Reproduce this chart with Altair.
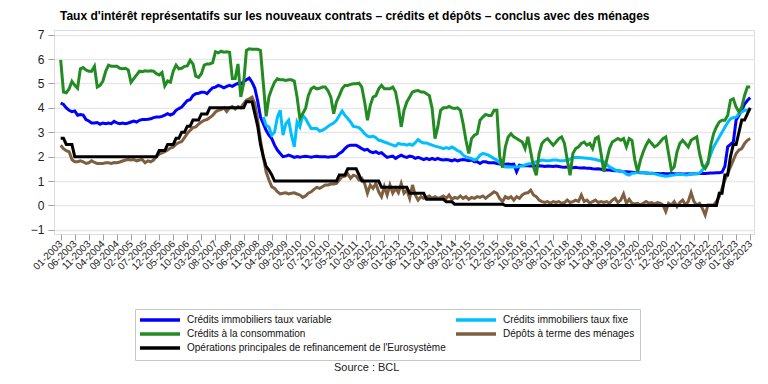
import altair as alt
import pandas as pd

# ---------------- data (monthly, 01-2003 .. 06-2023) ----------------
tick_labels = [
    "01-2003", "06-2003", "11-2003", "04-2004", "09-2004", "02-2005", "07-2005", "12-2005",
    "05-2006", "10-2006", "03-2007", "08-2007", "01-2008", "06-2008", "11-2008", "04-2009",
    "09-2009", "02-2010", "07-2010", "12-2010", "05-2011", "10-2011", "03-2012", "08-2012",
    "01-2013", "06-2013", "11-2013", "04-2014", "09-2014", "02-2015", "07-2015", "12-2015",
    "05-2016", "10-2016", "03-2017", "08-2017", "01-2018", "06-2018", "11-2018", "04-2019",
    "09-2019", "02-2020", "07-2020", "12-2020", "05-2021", "10-2021", "03-2022", "08-2022",
    "01-2023", "06-2023",
]

series_names = [
    "Crédits immobiliers taux variable",
    "Crédits immobiliers taux fixe",
    "Crédits à la consommation",
    "Dépôts à terme des ménages",
    "Opérations principales de refinancement de l'Eurosystème",
]
series_colors = ["#0000FF", "#00BFFF", "#228B22", "#7F5F3F", "#000000"]

taux_variable = [
    4.20, 4.14, 4.00, 3.90, 3.84, 3.87, 3.70, 3.73, 3.70, 3.52,
    3.46, 3.38, 3.38, 3.40, 3.33, 3.38, 3.35, 3.38, 3.35, 3.45,
    3.38, 3.35, 3.38, 3.35, 3.38, 3.42, 3.46, 3.42, 3.49, 3.52,
    3.52, 3.53, 3.55, 3.60, 3.62, 3.62, 3.65, 3.70, 3.76, 3.70,
    3.76, 3.90, 3.97, 4.03, 4.17, 4.30, 4.33, 4.50, 4.58, 4.60,
    4.64, 4.64, 4.58, 4.71, 4.82, 4.85, 4.92, 4.88, 4.82, 4.88,
    4.92, 4.88, 4.95, 5.00, 4.97, 5.07, 5.15, 5.22, 5.05, 4.80,
    4.28, 3.62, 3.35, 3.08, 2.88, 2.74, 2.47, 2.27, 2.13, 2.00,
    2.02, 2.06, 2.02, 1.97, 2.00, 1.98, 2.00, 2.02, 2.00, 1.98,
    2.00, 2.02, 2.00, 2.00, 2.00, 1.98, 2.00, 2.00, 2.02, 2.13,
    2.20, 2.33, 2.43, 2.47, 2.47, 2.47, 2.40, 2.33, 2.27, 2.30,
    2.20, 2.16, 2.20, 2.13, 2.16, 2.06, 1.97, 2.00, 2.02, 1.93,
    2.00, 2.06, 2.00, 1.97, 2.02, 2.00, 1.93, 1.97, 1.93, 1.88,
    1.93, 1.88, 1.93, 1.88, 1.93, 1.88, 1.86, 1.88, 1.86, 1.83,
    1.88, 1.83, 1.86, 1.88, 1.86, 1.83, 1.86, 1.79, 1.79, 1.72,
    1.79, 1.79, 1.75, 1.75, 1.75, 1.72, 1.70, 1.69, 1.69, 1.70,
    1.68, 1.69, 1.38, 1.65, 1.63, 1.64, 1.63, 1.62, 1.63, 1.62,
    1.63, 1.62, 1.60, 1.62, 1.61, 1.60, 1.62, 1.60, 1.58, 1.57,
    1.58, 1.56, 1.55, 1.56, 1.54, 1.53, 1.54, 1.52, 1.52, 1.50,
    1.49, 1.50, 1.48, 1.46, 1.45, 1.45, 1.43, 1.42, 1.42, 1.40,
    1.38, 1.38, 1.37, 1.36, 1.35, 1.35, 1.34, 1.34, 1.33, 1.32,
    1.32, 1.31, 1.31, 1.30, 1.31, 1.30, 1.30, 1.31, 1.30, 1.29,
    1.30, 1.29, 1.29, 1.30, 1.29, 1.30, 1.30, 1.31, 1.32, 1.31,
    1.32, 1.33, 1.33, 1.34, 1.34, 1.36, 1.60, 2.40, 2.50, 2.60,
    3.50, 3.70, 3.90, 4.15, 4.30, 4.42,
]

# starts 01-2009
taux_fixe = [
    3.62, 3.29, 3.22, 2.88, 3.01, 3.62, 3.90, 2.88,
    3.35, 3.49, 2.88, 2.40, 3.42, 3.22, 3.69, 3.56, 3.35, 3.15,
    3.15, 3.15, 3.05, 3.08, 3.15, 3.24, 3.32, 3.38, 3.49, 3.69,
    3.87, 3.69, 3.56, 3.42, 3.24, 3.22, 3.19, 3.08, 2.94, 2.84,
    2.81, 2.84, 2.78, 2.67, 2.65, 2.60, 2.56, 2.51, 2.47, 2.43,
    2.54, 2.51, 2.51, 2.47, 2.51, 2.47, 2.57, 2.70, 2.60, 2.56,
    2.56, 2.51, 2.47, 2.43, 2.40, 2.37, 2.33, 2.37, 2.33, 2.40,
    2.33, 2.24, 2.20, 2.06, 1.99, 1.96, 1.92, 1.86, 1.92, 2.06,
    2.13, 2.10, 2.06, 1.99, 1.92, 1.86, 1.75, 1.65, 1.58, 1.58,
    1.58, 1.58, 1.58, 1.60, 1.63, 1.66, 1.70, 1.72, 1.75, 1.79,
    1.82, 1.86, 1.84, 1.83, 1.84, 1.86, 1.86, 1.84, 1.83, 1.84,
    1.86, 1.90, 1.96, 1.96, 1.96, 1.95, 1.94, 1.93, 1.92, 1.90,
    1.88, 1.85, 1.82, 1.79, 1.68, 1.58, 1.52, 1.45, 1.42, 1.40,
    1.38, 1.28, 1.24, 1.32, 1.33, 1.36, 1.36, 1.34, 1.34, 1.32,
    1.31, 1.30, 1.27, 1.24, 1.22, 1.20, 1.21, 1.24, 1.25, 1.27,
    1.28, 1.27, 1.25, 1.26, 1.29, 1.30, 1.31, 1.33, 1.45, 1.60,
    1.80, 2.10, 2.40, 2.60, 2.80, 3.00, 3.20, 3.40, 3.55, 3.60,
    3.62, 3.76, 3.83, 3.90, 3.90, 3.95,
]
taux_fixe_start = 72  # index of 01-2009

consommation = [
    5.97, 4.65, 4.62, 4.78, 5.08, 4.92, 4.80, 5.60, 5.65, 5.55,
    5.50, 5.50, 5.70, 4.85, 4.92, 5.10, 5.50, 5.75, 5.70, 5.70,
    5.70, 5.62, 5.60, 5.62, 5.55, 5.05, 5.20, 5.35, 5.50, 5.48,
    5.52, 5.50, 5.52, 5.50, 5.40, 5.35, 5.45, 4.90, 5.10, 5.05,
    5.50, 5.75, 5.60, 5.62, 5.70, 5.72, 5.95, 5.80, 5.30, 5.25,
    5.40, 5.75, 5.80, 5.80, 5.85, 6.30, 6.25, 6.32, 6.28, 6.30,
    6.28, 5.20, 5.20, 5.80, 4.45, 5.00, 6.35, 6.42, 6.40, 6.40,
    6.40, 6.35, 5.00, 3.65, 4.45, 4.78, 5.05, 5.19, 5.15, 5.15,
    5.12, 5.15, 5.15, 5.10, 4.44, 3.56, 3.76, 3.97, 4.50, 4.78,
    4.85, 4.78, 4.80, 4.85, 4.85, 4.70, 4.44, 3.76, 4.24, 4.50,
    4.78, 4.92, 4.92, 4.96, 4.99, 4.99, 5.01, 4.85, 4.24, 3.49,
    4.10, 4.44, 4.50, 4.78, 4.92, 4.78, 4.78, 4.78, 4.85, 4.65,
    4.03, 3.22, 3.90, 4.24, 4.44, 4.65, 4.69, 4.71, 4.65, 4.65,
    4.58, 4.50, 3.97, 2.74, 3.22, 3.90, 4.00, 4.00, 4.06, 4.00,
    3.97, 4.00, 3.90, 3.35, 2.67, 2.13, 2.74, 2.88, 2.94, 3.49,
    3.62, 3.73, 3.69, 3.69, 3.90, 3.90, 2.00, 1.55, 2.40, 2.81,
    2.94, 2.81, 2.74, 2.67, 2.60, 2.33, 2.81, 2.20, 1.58, 1.24,
    2.13, 2.54, 2.67, 2.74, 2.60, 2.47, 2.60, 2.74, 2.81, 2.54,
    1.86, 1.24, 2.13, 2.33, 2.40, 2.54, 2.60, 2.47, 2.54, 2.33,
    2.74, 2.81, 2.13, 1.38, 1.86, 2.33, 2.60, 2.67, 2.74, 2.67,
    2.74, 2.40, 2.74, 2.67, 1.86, 1.38, 1.86, 2.20, 2.47, 2.67,
    2.54, 2.40, 2.47, 2.60, 2.74, 2.81, 2.13, 1.45, 1.58, 2.20,
    2.54, 2.67, 2.54, 2.40, 2.67, 2.74, 2.81, 2.13, 1.65, 1.52,
    1.72, 2.47, 2.94, 3.22, 3.42, 3.49, 3.49, 3.69, 4.31, 4.37,
    4.03, 3.83, 4.03, 4.51, 4.85, 4.85,
]

depots = [
    2.47, 2.33, 2.24, 2.20, 1.88, 1.79, 1.79, 1.83, 1.79, 1.72,
    1.75, 1.83, 1.76, 1.72, 1.72, 1.72, 1.75, 1.75, 1.72, 1.76,
    1.75, 1.78, 1.82, 1.86, 1.88, 1.86, 1.88, 1.83, 1.86, 1.88,
    1.75, 1.83, 1.79, 1.86, 2.00, 2.10, 2.15, 2.20, 2.27, 2.35,
    2.40, 2.51, 2.58, 2.62, 2.78, 2.95, 3.08, 3.19, 3.22, 3.33,
    3.42, 3.49, 3.52, 3.60, 3.69, 3.83, 3.90, 3.93, 4.00, 3.85,
    4.00, 4.05, 3.95, 4.05, 4.00, 4.17, 4.31, 4.37, 4.44, 4.17,
    3.49, 2.67, 1.99, 1.38, 1.04, 0.77, 0.70, 0.56, 0.47, 0.50,
    0.52, 0.47, 0.50, 0.52, 0.47, 0.43, 0.33, 0.39, 0.50, 0.56,
    0.66, 0.74, 0.70, 0.77, 0.84, 0.84, 0.88, 0.88, 0.90, 1.04,
    1.18, 1.20, 1.29, 1.11, 1.24, 1.20, 1.04, 1.11, 0.90, 0.50,
    0.84, 0.70, 0.90, 0.56, 0.36, 0.77, 0.43, 0.84, 0.50, 0.70,
    0.52, 0.90, 0.50, 0.63, 0.29, 0.84, 0.43, 0.22, 0.36, 0.29,
    0.33, 0.39, 0.29, 0.36, 0.29, 0.33, 0.39, 0.29, 0.43, 0.25,
    0.33, 0.29, 0.39, 0.29, 0.36, 0.25, 0.33, 0.29, 0.36, 0.33,
    0.39, 0.29, 0.39, 0.47, 0.56, 0.50, 0.28, 0.16, 0.36, 0.29,
    0.36, 0.22, 0.36, 0.29, 0.43, 0.50, 0.52, 0.63, 0.43, 0.36,
    0.22, 0.16, 0.12, 0.16, 0.09, 0.16, 0.12, 0.16, 0.09, 0.12,
    0.22, 0.12, 0.16, 0.22, 0.16, 0.43, 0.16, 0.22, 0.09, 0.16,
    0.22, 0.12, 0.16, 0.12, 0.16, 0.09, 0.22, 0.29, 0.12, 0.22,
    0.47, 0.09, 0.25, 0.09, 0.06, 0.09, 0.02, 0.09, 0.16, 0.09,
    0.12, 0.06, 0.12, 0.09, 0.02, -0.25, 0.09, 0.02, 0.16, -0.05,
    0.12, 0.22, 0.02, 0.16, 0.52, 0.16, 0.02, 0.09, -0.12, -0.39,
    0.02, 0.02, 0.02, 0.16, 0.36, 0.70, 1.04, 1.31, 1.58, 1.86,
    2.13, 2.27, 2.33, 2.54, 2.67, 2.74,
]

refinancement = [
    2.75, 2.75, 2.50, 2.50, 2.50, 2.00, 2.00, 2.00, 2.00, 2.00,
    2.00, 2.00, 2.00, 2.00, 2.00, 2.00, 2.00, 2.00, 2.00, 2.00,
    2.00, 2.00, 2.00, 2.00, 2.00, 2.00, 2.00, 2.00, 2.00, 2.00,
    2.00, 2.00, 2.00, 2.00, 2.00, 2.25, 2.25, 2.25, 2.50, 2.50,
    2.50, 2.75, 2.75, 3.00, 3.00, 3.25, 3.25, 3.50, 3.50, 3.50,
    3.75, 3.75, 3.75, 4.00, 4.00, 4.00, 4.00, 4.00, 4.00, 4.00,
    4.00, 4.00, 4.00, 4.00, 4.00, 4.00, 4.25, 4.25, 4.25, 3.75,
    3.25, 2.50, 2.00, 1.60, 1.45, 1.25, 1.00, 1.00, 1.00, 1.00,
    1.00, 1.00, 1.00, 1.00, 1.00, 1.00, 1.00, 1.00, 1.00, 1.00,
    1.00, 1.00, 1.00, 1.00, 1.00, 1.00, 1.00, 1.00, 1.00, 1.25,
    1.25, 1.25, 1.50, 1.50, 1.50, 1.50, 1.25, 1.00, 1.00, 1.00,
    1.00, 1.00, 1.00, 1.00, 0.75, 0.75, 0.75, 0.75, 0.75, 0.75,
    0.75, 0.75, 0.75, 0.75, 0.50, 0.50, 0.50, 0.50, 0.50, 0.50,
    0.25, 0.25, 0.25, 0.25, 0.25, 0.25, 0.25, 0.15, 0.15, 0.15,
    0.05, 0.05, 0.05, 0.05, 0.05, 0.05, 0.05, 0.05, 0.05, 0.05,
    0.05, 0.05, 0.05, 0.05, 0.05, 0.05, 0.05, 0.05, 0.00, 0.00,
    0.00, 0.00, 0.00, 0.00, 0.00, 0.00, 0.00, 0.00, 0.00, 0.00,
    0.00, 0.00, 0.00, 0.00, 0.00, 0.00, 0.00, 0.00, 0.00, 0.00,
    0.00, 0.00, 0.00, 0.00, 0.00, 0.00, 0.00, 0.00, 0.00, 0.00,
    0.00, 0.00, 0.00, 0.00, 0.00, 0.00, 0.00, 0.00, 0.00, 0.00,
    0.00, 0.00, 0.00, 0.00, 0.00, 0.00, 0.00, 0.00, 0.00, 0.00,
    0.00, 0.00, 0.00, 0.00, 0.00, 0.00, 0.00, 0.00, 0.00, 0.00,
    0.00, 0.00, 0.00, 0.00, 0.00, 0.00, 0.00, 0.00, 0.00, 0.00,
    0.00, 0.00, 0.00, 0.00, 0.50, 0.50, 1.25, 1.25, 2.00, 2.50,
    2.50, 3.00, 3.50, 3.50, 3.75, 4.00,
]

source_text = "Source : BCL"
title_text = ("Taux d'intérêt représentatifs sur les nouveaux contrats – crédits et dépôts – "
              "conclus avec des ménages")

# ---------------- long table ----------------
rows = []
for name, values, start in [
    (series_names[0], taux_variable, 0),
    (series_names[1], taux_fixe, taux_fixe_start),
    (series_names[2], consommation, 0),
    (series_names[3], depots, 0),
    (series_names[4], refinancement, 0),
]:
    for i, v in enumerate(values):
        rows.append({"mois": start + i, "serie": name, "taux": v})
df = pd.DataFrame(rows)

FONT = "Liberation Sans"
label_expr = "[" + ",".join("'" + t + "'" for t in tick_labels) + "][round(datum.value / 5)]"

lines = alt.Chart(df).mark_line(strokeWidth=3, clip=True).encode(
    x=alt.X(
        "mois:Q",
        scale=alt.Scale(domain=[-2.37, 246.35], nice=False, zero=False),
        axis=alt.Axis(
            values=list(range(0, 246, 5)),
            labelExpr=label_expr,
            labelAngle=315,
            labelAlign="right",
            labelBaseline="middle",
            labelFontSize=10,
            labelFont=FONT,
            labelColor="#222222",
            labelPadding=2,
            labelOverlap=False,
            labelBound=False,
            tickSize=6,
            tickColor="#a0a0a0",
            domain=False,
            grid=False,
            title=None,
        ),
    ),
    y=alt.Y(
        "taux:Q",
        scale=alt.Scale(domain=[-1.17, 7.19], nice=False, zero=False),
        axis=alt.Axis(
            values=list(range(-1, 8)),
            format="d",
            labelFontSize=12,
            labelFont=FONT,
            labelColor="#222222",
            labelPadding=4,
            tickSize=6,
            tickColor="#a0a0a0",
            domain=False,
            grid=True,
            gridColor="#e8e8e8",
            gridWidth=1.5,
            title=None,
        ),
    ),
    color=alt.Color(
        "serie:N",
        scale=alt.Scale(domain=series_names, range=series_colors),
        legend=alt.Legend(
            title=None,
            orient="none",
            legendX=81,
            legendY=279,
            columns=2,
            direction="horizontal",
            symbolType="M-5,0L5,0",
            symbolSize=64,
            symbolStrokeWidth=3.5,
            symbolOffset=14,
            labelFontSize=10,
            labelFont=FONT,
            labelColor="#111111",
            labelLimit=400,
            labelOffset=21,
            padding=5,
            rowPadding=0,
            columnPadding=3,
            strokeColor="#c8c8c8",
            cornerRadius=0,
        ),
    ),
    detail="serie:N",
)

source = alt.Chart(pd.DataFrame({"t": [source_text]})).mark_text(
    font=FONT, fontSize=11, color="#222222", align="center", baseline="middle"
).encode(x=alt.value(312.7), y=alt.value(338), text="t:N")

chart = alt.layer(lines, source).properties(
    width=700,
    height=204,
    autosize=alt.AutoSizeParams(type="none"),
    padding={"left": 46, "top": 22, "right": 6, "bottom": 142},
    title=alt.TitleParams(
        text=title_text,
        anchor="start",
        frame="group",
        dx=6,
        offset=6,
        fontSize=12,
        fontWeight="bold",
        font=FONT,
        color="#000000",
    ),
).configure_view(stroke="#a0a0a0", strokeWidth=1).configure(background="white")

chart.save("out.html", embed_options={"renderer": "svg", "actions": False})
